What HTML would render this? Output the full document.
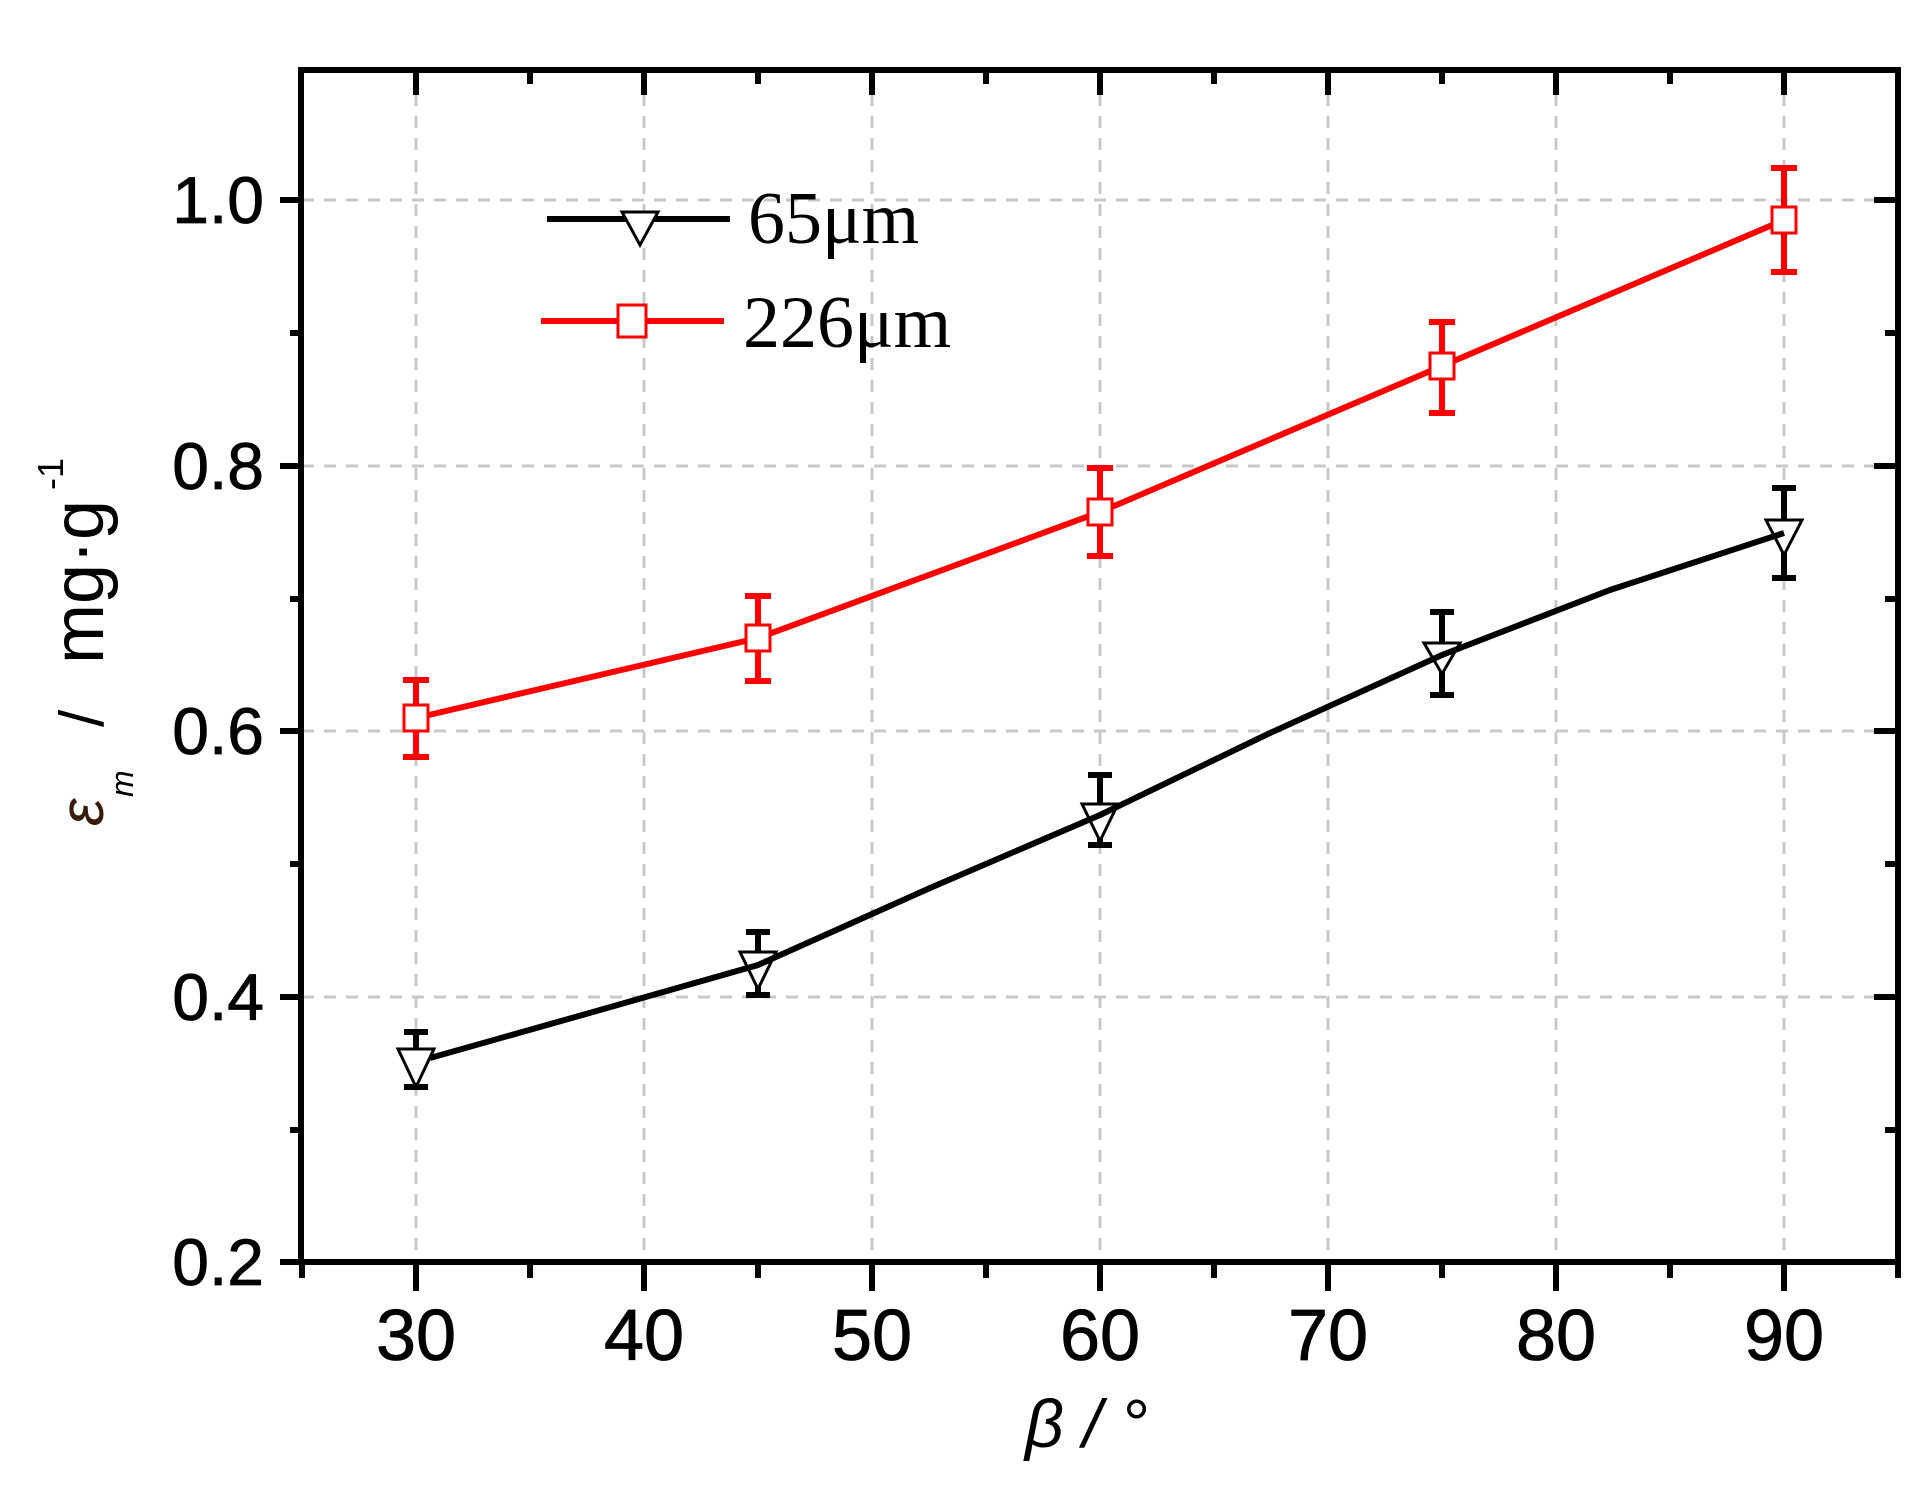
<!DOCTYPE html>
<html><head><meta charset="utf-8"><style>
html,body{margin:0;padding:0;background:#fff;}
svg{display:block;}
text{font-family:"Liberation Sans",sans-serif;}
</style></head><body>
<svg width="1929" height="1489" viewBox="0 0 1929 1489" xmlns="http://www.w3.org/2000/svg">
<rect width="1929" height="1489" fill="#fff"/>
<g stroke="#c8c8c8" stroke-width="3" stroke-dasharray="12,10">
<line x1="416" y1="72" x2="416" y2="1260"/>
<line x1="644" y1="72" x2="644" y2="1260"/>
<line x1="872" y1="72" x2="872" y2="1260"/>
<line x1="1100" y1="72" x2="1100" y2="1260"/>
<line x1="1328" y1="72" x2="1328" y2="1260"/>
<line x1="1556" y1="72" x2="1556" y2="1260"/>
<line x1="1784" y1="72" x2="1784" y2="1260"/>
<line x1="302" y1="200" x2="1897" y2="200"/>
<line x1="302" y1="466" x2="1897" y2="466"/>
<line x1="302" y1="731" x2="1897" y2="731"/>
<line x1="302" y1="997" x2="1897" y2="997"/>
</g>
<rect x="301" y="70" width="1597" height="1192" fill="none" stroke="#000" stroke-width="6"/>
<g stroke="#000" stroke-width="6">
<line x1="416" y1="1262" x2="416" y2="1291"/><line x1="644" y1="1262" x2="644" y2="1291"/>
<line x1="872" y1="1262" x2="872" y2="1291"/><line x1="1100" y1="1262" x2="1100" y2="1291"/>
<line x1="1328" y1="1262" x2="1328" y2="1291"/><line x1="1556" y1="1262" x2="1556" y2="1291"/>
<line x1="1784" y1="1262" x2="1784" y2="1291"/>
<line x1="302" y1="1262" x2="302" y2="1278"/><line x1="530" y1="1262" x2="530" y2="1278"/>
<line x1="758" y1="1262" x2="758" y2="1278"/><line x1="986" y1="1262" x2="986" y2="1278"/>
<line x1="1214" y1="1262" x2="1214" y2="1278"/><line x1="1442" y1="1262" x2="1442" y2="1278"/>
<line x1="1670" y1="1262" x2="1670" y2="1278"/><line x1="1898" y1="1262" x2="1898" y2="1278"/>
<line x1="416" y1="70" x2="416" y2="95"/><line x1="644" y1="70" x2="644" y2="95"/>
<line x1="872" y1="70" x2="872" y2="95"/><line x1="1100" y1="70" x2="1100" y2="95"/>
<line x1="1328" y1="70" x2="1328" y2="95"/><line x1="1556" y1="70" x2="1556" y2="95"/>
<line x1="1784" y1="70" x2="1784" y2="95"/>
<line x1="530" y1="70" x2="530" y2="84"/><line x1="758" y1="70" x2="758" y2="84"/>
<line x1="986" y1="70" x2="986" y2="84"/><line x1="1214" y1="70" x2="1214" y2="84"/>
<line x1="1442" y1="70" x2="1442" y2="84"/><line x1="1670" y1="70" x2="1670" y2="84"/>
<line x1="280" y1="200" x2="301" y2="200"/><line x1="280" y1="466" x2="301" y2="466"/>
<line x1="280" y1="731" x2="301" y2="731"/><line x1="280" y1="997" x2="301" y2="997"/>
<line x1="280" y1="1262" x2="301" y2="1262"/>
<line x1="290" y1="333" x2="301" y2="333"/><line x1="290" y1="599" x2="301" y2="599"/>
<line x1="290" y1="864" x2="301" y2="864"/><line x1="290" y1="1130" x2="301" y2="1130"/>
<line x1="1874" y1="200" x2="1898" y2="200"/><line x1="1874" y1="466" x2="1898" y2="466"/>
<line x1="1874" y1="731" x2="1898" y2="731"/><line x1="1874" y1="997" x2="1898" y2="997"/>
<line x1="1885" y1="333" x2="1898" y2="333"/><line x1="1885" y1="599" x2="1898" y2="599"/>
<line x1="1885" y1="864" x2="1898" y2="864"/><line x1="1885" y1="1130" x2="1898" y2="1130"/>
</g>
<g font-size="66" fill="#000" stroke="#000" stroke-width="0.8" text-anchor="end">
<text x="264" y="223">1.0</text>
<text x="264" y="489">0.8</text>
<text x="264" y="754">0.6</text>
<text x="264" y="1020">0.4</text>
<text x="264" y="1285">0.2</text>
</g>
<g font-size="72" fill="#000" stroke="#000" stroke-width="0.8" text-anchor="middle">
<text x="416" y="1360">30</text><text x="644" y="1360">40</text>
<text x="872" y="1360">50</text><text x="1100" y="1360">60</text>
<text x="1328" y="1360">70</text><text x="1556" y="1360">80</text>
<text x="1784" y="1360">90</text>
</g>
<text x="1025" y="1447" font-size="68" font-style="italic" fill="#000">β / °</text>
<g transform="translate(103,0) rotate(-90)" fill="#000">
<text x="-826" y="0" font-size="62" font-style="italic" fill="#3a1a08">ε</text>
<text x="-797" y="30" font-size="32" font-style="italic">m</text>
<text x="-727" y="0" font-size="62">/</text>
<text x="-664" y="0" font-size="72">mg·g</text>
<text x="-490" y="-40" font-size="36">-1</text>
</g>
<g stroke="#f00" fill="none">
<polyline stroke-width="6" points="416,718 758,638 1100,512 1442,366 1784,220"/>
<g stroke-width="6">
<line x1="416" y1="680" x2="416" y2="757"/><line x1="403" y1="680" x2="429" y2="680"/><line x1="403" y1="757" x2="429" y2="757"/>
<line x1="758" y1="596" x2="758" y2="681"/><line x1="745" y1="596" x2="771" y2="596"/><line x1="745" y1="681" x2="771" y2="681"/>
<line x1="1100" y1="468" x2="1100" y2="556"/><line x1="1087" y1="468" x2="1113" y2="468"/><line x1="1087" y1="556" x2="1113" y2="556"/>
<line x1="1442" y1="322" x2="1442" y2="413"/><line x1="1429" y1="322" x2="1455" y2="322"/><line x1="1429" y1="413" x2="1455" y2="413"/>
<line x1="1784" y1="168" x2="1784" y2="272"/><line x1="1771" y1="168" x2="1797" y2="168"/><line x1="1771" y1="272" x2="1797" y2="272"/>
</g>
<g stroke-width="3" fill="#fff">
<rect x="404" y="705" width="24" height="26"/>
<rect x="746" y="625" width="24" height="26"/>
<rect x="1088" y="499" width="24" height="26"/>
<rect x="1430" y="353" width="24" height="26"/>
<rect x="1772" y="207" width="24" height="26"/>
</g>
</g>
<g stroke="#000" fill="none">
<g stroke-width="6">
<line x1="416" y1="1032" x2="416" y2="1087"/><line x1="404" y1="1032" x2="428" y2="1032"/><line x1="404" y1="1087" x2="428" y2="1087"/>
<line x1="758" y1="932" x2="758" y2="995"/><line x1="746" y1="932" x2="770" y2="932"/><line x1="746" y1="995" x2="770" y2="995"/>
<line x1="1100" y1="775" x2="1100" y2="845"/><line x1="1088" y1="775" x2="1112" y2="775"/><line x1="1088" y1="845" x2="1112" y2="845"/>
<line x1="1442" y1="612" x2="1442" y2="695"/><line x1="1430" y1="612" x2="1454" y2="612"/><line x1="1430" y1="695" x2="1454" y2="695"/>
<line x1="1784" y1="488" x2="1784" y2="578"/><line x1="1772" y1="488" x2="1796" y2="488"/><line x1="1772" y1="578" x2="1796" y2="578"/>
</g>
<g stroke-width="3" fill="#fff">
<polygon points="398,1049 434,1049 416,1087"/>
<polygon points="740,952 776,952 758,989"/>
<polygon points="1082,804 1118,804 1100,841"/>
<polygon points="1424,643 1460,643 1442,674"/>
<polygon points="1766,520 1802,520 1784,555"/>
</g>
<polyline stroke-width="6" points="430,1058 600,1010 758,965 930,888 1100,815 1270,733 1442,655 1610,590 1784,533"/>
</g>
<line x1="547" y1="219" x2="730" y2="219" stroke="#000" stroke-width="6"/>
<polygon points="622,212 658,212 640,245" fill="#fff" stroke="#000" stroke-width="3"/>
<text x="748" y="243" font-size="74" fill="#000" style="font-family:'Liberation Serif',serif">65μm</text>
<line x1="541" y1="321" x2="724" y2="321" stroke="#f00" stroke-width="6"/>
<rect x="618" y="305" width="28" height="32" fill="#fff" stroke="#f00" stroke-width="3"/>
<text x="743" y="347" font-size="74" fill="#000" style="font-family:'Liberation Serif',serif">226μm</text>
</svg>
</body></html>
